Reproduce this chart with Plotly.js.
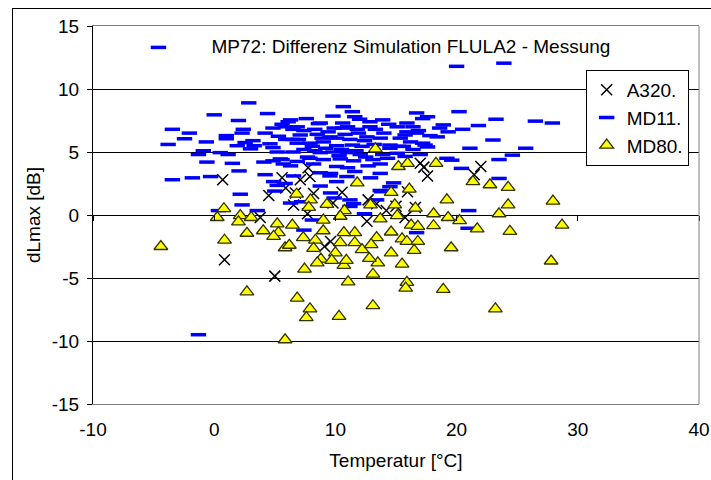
<!DOCTYPE html>
<html>
<head>
<meta charset="utf-8">
<script src="https://cdn.plot.ly/plotly-3.0.1.min.js"></script>
<style>
  html, body { margin:0; padding:0; background:#fff; }
  #frame { position:absolute; left:12px; top:8px; width:900px; height:700px; border:1px solid #000; }
  #chart { position:absolute; left:0; top:0; width:711px; height:480px; }
</style>
</head>
<body>
<div id="frame"></div>
<div id="chart"></div>
<script>
// ---- data (Temperatur [°C], dLmax [dB]) ----
const a320 = [
  [0.7,2.8],[0.85,-3.55],[3.8,-0.2],[4.5,1.55],[5.0,-4.85],[5.6,2.95],[5.9,2.15],[6.7,1.75],
  [6.55,0.8],[7.1,2.8],[7.75,3.75],[7.9,3.05],[7.7,0.1],[8.2,1.7],[9.8,0.95],[10.55,1.8],
  [9.1,-2.5],[9.6,-2.1],[12.7,1.2],[12.6,-0.5],[13.4,0.9],[14.2,0.35],[15.0,0.7],[15.95,1.85],
  [16.6,0.6],[15.75,-0.2],[17.0,4.1],[17.3,3.8],[17.6,3.1],[21.45,3.2],[22.0,3.85]
];

const md11 = [
  [-4.6,13.3],[2.85,8.9],[0.0,7.95],[4.4,8.05],[2.0,7.5],[-3.45,6.8],[-2.05,6.5],[-2.45,6.05],
  [-3.8,5.6],[-0.65,5.8],[1.0,6.3],[1.0,6.05],[2.4,6.8],[2.3,6.5],[1.9,5.5],[2.55,5.75],
  [3.2,5.9],[3.0,5.25],[4.2,6.5],[4.6,5.65],[4.85,5.35],[4.85,6.9],[5.85,7.0],[6.1,7.4],
  [6.45,6.0],[-0.9,5.1],[-1.3,4.8],[0.5,4.95],[1.15,4.8],[-0.6,4.2],[1.5,4.1],[2.05,3.5],
  [-3.45,2.8],[-1.8,2.95],[-0.3,3.05],[4.2,3.2],[4.1,4.2],[4.85,4.3],[5.45,4.45],[6.3,3.9],
  [2.15,1.65],[2.3,0.8],[0.35,0.35],[3.55,0.35],[5.0,1.9],[5.2,2.35],[4.9,2.65],[6.3,7.55],
  [6.5,6.8],[6.5,5.0],[5.2,5.0],[3.3,5.5],[5.6,7.2],[5.3,6.25],[5.9,6.0],[5.6,4.4],
  [5.7,4.05],[6.55,3.1],[5.85,2.5],[-1.3,-9.5],[6.3,0.95],[7.2,1.05],
  [7.4,-1.2],[8.1,-0.4],[7.6,7.65],[7.4,6.7],[8.3,6.8],[8.6,7.25],[6.95,6.0],[8.1,5.45],
  [7.9,4.5],[10.65,8.6],[11.4,8.2],[9.8,7.85],[11.6,7.8],[8.75,7.3],[10.6,7.3],[12.85,7.4],
  [13.9,7.55],[15.9,7.3],[6.85,7.0],[10.6,6.9],[11.8,6.8],[12.85,7.0],[15.1,7.0],[15.9,6.6],
  [16.7,6.5],[17.8,6.3],[7.1,6.35],[8.5,6.4],[9.55,6.2],[10.1,6.1],[11.2,6.0],[12.6,6.2],
  [13.7,6.1],[15.35,6.1],[16.2,5.8],[17.2,5.7],[6.85,5.7],[7.9,5.7],[9.0,5.8],[10.1,5.5],
  [11.4,5.55],[12.2,5.45],[14.5,5.55],[15.6,5.45],[16.4,5.2],[17.6,5.4],[7.4,5.2],[8.75,4.95],
  [9.8,5.0],[11.0,4.95],[12.05,4.8],[13.9,4.8],[15.1,4.9],[15.75,4.65],[17.0,4.8],[7.7,4.6],
  [9.0,4.4],[10.4,4.45],[13.1,4.4],[6.85,4.25],[8.2,4.05],[10.1,3.85],[11.0,3.75],[12.7,3.9],
  [13.7,4.05],[8.75,3.35],[9.55,3.1],[11.6,3.45],[12.9,2.95],[13.7,3.3],[14.5,2.25],[13.8,1.85],
  [10.1,2.65],[14.8,2.55],[8.75,2.3],[9.6,1.75],[9.9,1.35],[11.2,1.2],[11.5,0.9],[11.2,0.68],
  [13.4,1.2],[12.4,0.1],[13.7,1.95],[16.7,-1.4],[10.95,3.05],[9.6,3.3],
  [9.2,5.3],[10.5,5.2],[11.7,5.1],[8.3,5.1],[9.4,6.6],[10.8,6.4],[11.9,6.5],[12.4,5.9],
  [13.2,5.6],[14.0,6.5],[14.4,7.2],[13.3,6.8],[12.0,7.6],[11.0,7.0],[9.9,6.9],[8.9,6.1],
  [10.3,4.7],[11.5,4.3],[12.5,4.6],[14.3,4.5],
  [20.0,11.8],[23.9,12.05],[20.2,8.2],[16.7,8.1],[17.6,7.8],[17.2,7.65],[23.25,7.6],[26.5,7.45],
  [27.9,7.3],[21.8,7.1],[20.5,6.8],[18.9,7.15],[18.6,6.9],[19.3,6.6],[18.4,6.2],[23.0,5.95],
  [21.1,5.3],[25.7,5.3],[24.6,4.75],[23.5,4.4],[19.2,4.5],[19.6,4.35],[20.4,3.7],[23.5,2.9],
  [21.0,0.35],[20.95,-1.05],[16.4,7.0],[16.85,6.7],[15.75,6.35],[17.4,5.55],[15.2,5.45],[14.5,5.3]
];

const md80 = [
  [13.3,5.25],[15.2,3.85],[15.95,4.1],[18.3,4.1],[11.8,2.55],[14.6,1.8],[16.1,2.05],[21.35,2.65],
  [22.75,2.4],[24.25,2.2],[19.2,1.2],[27.95,1.1],[24.25,0.8],[6.8,1.65],[7.95,1.2],[7.8,0.6],
  [9.3,0.85],[10.75,0.35],[0.8,0.5],[12.9,0.8],[14.9,0.8],[16.6,0.55],[18.1,0.1],[23.5,0.1],
  [0.25,-0.2],[2.15,-0.05],[3.05,-0.2],[2.0,-0.55],[10.4,-0.1],[13.7,-0.3],[15.1,-0.05],[19.3,-0.2],
  [20.25,-0.45],[9.0,-0.4],[28.7,-0.8],[21.7,-1.1],[24.4,-1.3],[16.25,-0.8],[16.8,-0.9],[18.1,-0.85],
  [14.6,-1.35],[11.6,-1.4],[10.7,-1.4],[13.4,-1.8],[15.5,-1.9],[5.2,-0.7],[6.45,-0.8],[4.05,-1.25],
  [2.7,-1.45],[5.3,-1.4],[4.9,-1.7],[9.0,-1.25],[7.35,-1.8],[8.35,-2.0],[0.85,-2.0],[5.85,-2.6],
  [6.2,-2.4],[-4.4,-2.5],[8.2,-2.65],[10.4,-2.2],[11.6,-2.2],[12.2,-2.75],[12.95,-2.35],[15.9,-2.1],
  [16.8,-2.1],[16.5,-2.8],[14.6,-3.0],[15.5,-3.9],[13.5,-3.8],[12.8,-3.45],[10.0,-3.0],[8.8,-3.5],
  [8.5,-3.8],[9.7,-3.6],[10.7,-4.0],[10.9,-3.6],[7.45,-4.3],[13.1,-4.7],[11.05,-5.3],[15.9,-5.35],
  [15.8,-5.8],[18.9,-5.9],[19.55,-2.6],[27.8,-3.65],[2.7,-6.1],[6.85,-6.6],[7.9,-7.45],[7.6,-8.15],
  [10.3,-8.05],[13.1,-7.2],[23.2,-7.45],[5.85,-9.9]
];

const seriesNames = ['A320.', 'MD11.', 'MD80.'];
const xTicks = [-10, 0, 10, 20, 30, 40];
const yTicks = [-15, -10, -5, 0, 5, 10, 15];
const chartTitle = 'MP72: Differenz Simulation FLULA2 - Messung';
const xTitle = 'Temperatur [°C]';
const yTitle = 'dLmax [dB]';

const xs = pts => pts.map(p => p[0]);
const ys = pts => pts.map(p => p[1]);

const FONT = '"Liberation Sans", Arial, sans-serif';

const traces = [
  {
    type: 'scatter', mode: 'markers', name: seriesNames[0],
    x: xs(a320), y: ys(a320),
    marker: { symbol: 'x-thin', size: 11, color: '#000', line: { color: '#000', width: 1.5 } }
  },
  {
    type: 'scatter', mode: 'markers', name: seriesNames[1],
    x: xs(md11), y: ys(md11),
    marker: { symbol: 'line-ew', size: 11, color: '#0000ff', line: { color: '#0000ff', width: 3.5 } }
  },
  {
    type: 'scatter', mode: 'markers', name: seriesNames[2],
    x: xs(md80), y: ys(md80),
    marker: { symbol: 'triangle-up', size: 12, color: '#ffff00', line: { color: '#333300', width: 1.3 } }
  },
  { type: 'scatter', mode: 'markers', x: [], y: [], xaxis: 'x2', yaxis: 'y', showlegend: false, hoverinfo: 'skip' }
];

const layout = {
  width: 711, height: 480,
  margin: { l: 93, r: 12, t: 26, b: 76 },
  paper_bgcolor: 'rgba(0,0,0,0)',
  plot_bgcolor: '#ffffff',
  font: { family: FONT, size: 19, color: '#000' },
  showlegend: true,
  title: {
    text: chartTitle, font: { family: FONT, size: 19, color: '#000' },
    x: 0.578, xanchor: 'center', y: 1 - 46/480, yanchor: 'middle'
  },
  xaxis: {
    range: [-10, 40], tickvals: xTicks, ticktext: xTicks.map(String),
    showgrid: false, zeroline: false,
    showline: true, linecolor: '#808080', linewidth: 1, mirror: true,
    ticks: '', ticklabelstandoff: 8,
    tickfont: { family: FONT, size: 19, color: '#000' },
    title: { text: xTitle, font: { family: FONT, size: 19, color: '#000' }, standoff: 14 },
    automargin: false
  },
  xaxis2: {
    overlaying: 'x', anchor: 'free', position: 0.5, side: 'bottom',
    range: [-10, 40], tickvals: xTicks, showticklabels: false,
    ticks: 'outside', ticklen: 5, tickcolor: '#000', tickwidth: 1,
    showgrid: false, zeroline: false, showline: false
  },
  yaxis: {
    range: [-15, 15], tickvals: yTicks, ticktext: yTicks.map(String),
    showgrid: true, gridcolor: '#000', gridwidth: 1,
    zeroline: true, zerolinecolor: '#000', zerolinewidth: 1,
    showline: true, linecolor: '#000', linewidth: 1,
    ticks: 'outside', ticklen: 5, tickcolor: '#000', tickwidth: 1,
    ticklabelstandoff: 4,
    tickfont: { family: FONT, size: 19, color: '#000' },
    title: { text: yTitle, font: { family: FONT, size: 19, color: '#000' }, standoff: 6 },
    automargin: false
  },
  shapes: [
    { type: 'line', xref: 'x domain', yref: 'y domain', x0: 1, x1: 1, y0: 0, y1: 1,
      line: { color: '#808080', width: 1 }, layer: 'above' }
  ],
  legend: {
    x: 0.813, y: 0.884, xanchor: 'left', yanchor: 'top',
    bgcolor: '#ffffff', bordercolor: '#000', borderwidth: 1,
    font: { family: FONT, size: 19, color: '#000' }
  }
};

Plotly.newPlot('chart', traces, layout, { staticPlot: true, displayModeBar: false });
</script>
</body>
</html>
